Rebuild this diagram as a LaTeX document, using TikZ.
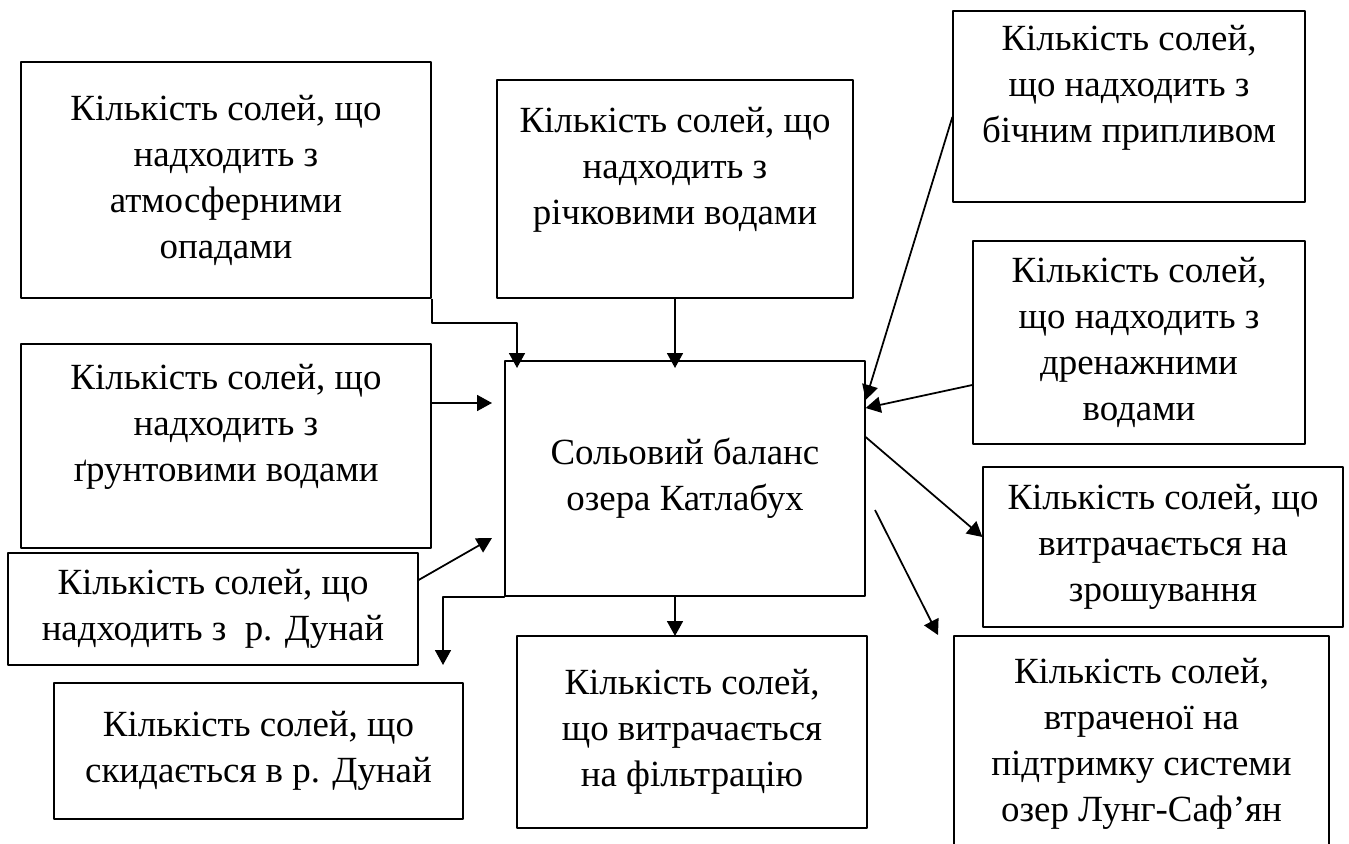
\documentclass[tikz,border=0pt]{standalone}
\usepackage{fontspec}
\setmainfont{Liberation Serif}
\usetikzlibrary{arrows.meta}
\begin{document}
	\begin{tikzpicture}[x=0.02cm, y=-0.02cm, font=\fontsize{21}{26.2}\selectfont, line join=round, >={Triangle[length=0.3cm,width=0.32cm]},
		blok/.style={draw, line width=0.75pt, align=center, inner sep=0pt},
		strilka/.style={->, line width=1pt}]
		\useasboundingbox (0,0) rectangle (1349,844);
		\clip (0,0) rectangle (1349,844);
		\node[blok, minimum width=8.2cm, minimum height=4.72cm] (atm) at (226,180) {Кількість солей, що\\надходить з\\атмосферними\\опадами};
		\node[blok, minimum width=7.12cm, minimum height=4.36cm] (river) at (675,189) {Кількість солей, що\\надходить з\\річковими водами\\ \mbox{}};
		\node[blok, minimum width=7.04cm, minimum height=3.82cm] (bich) at (1129,106.5) {Кількість солей,\\що надходить з\\бічним припливом\\ \mbox{}};
		\node[blok, minimum width=6.64cm, minimum height=4.06cm] (dren) at (1139,342.5) {Кількість солей,\\що надходить з\\дренажними\\водами};
		\node[blok, minimum width=8.2cm, minimum height=4.08cm] (grunt) at (226,446) {Кількість солей, що\\надходить з\\ґрунтовими водами\\ \mbox{}};
		\node[blok, minimum width=7.2cm, minimum height=4.7cm] (balans) at (685,478.5) {Сольовий баланс\\озера Катлабух};
		\node[blok, minimum width=8.2cm, minimum height=2.24cm] (dunaj) at (213,609) {Кількість солей, що\\надходить з~ р. Дунай};
		\node[blok, minimum width=7.2cm, minimum height=3.2cm] (zrosh) at (1163,547) {Кількість солей, що\\витрачається на\\зрошування};
		\node[blok, minimum width=7.5cm, minimum height=4.32cm] (lung) at (1141.5,744) {Кількість солей,\\втраченої на\\підтримку системи\\озер Лунг-Саф’ян};
		\node[blok, minimum width=8.18cm, minimum height=2.72cm] (skyd) at (258.5,751) {Кількість солей, що\\скидається в р. Дунай};
		\node[blok, minimum width=7cm, minimum height=3.84cm] (filtr) at (692,732) {Кількість солей,\\що витрачається\\на фільтрацію};
		\coordinate (atmK) at (517,368);
		\coordinate (rivK) at (675,368);
		\coordinate (gruK) at (492,403);
		\coordinate (dunK) at (492,538);
		\coordinate (skyK) at (443,665);
		\coordinate (filK) at (675,636);
		\coordinate (lunP) at (875,510);
		\coordinate (lunK) at (938,635);
		\draw[strilka] (atm.south east) -- ++(0,24) -| (atmK);
		\draw[strilka] (river.south) -- (rivK);
		\draw[strilka] ([yshift=0.86cm]grunt.east) -- (gruK);
		\draw[strilka] ([yshift=0.58cm]dunaj.east) -- (dunK);
		\draw[strilka] ([yshift=-0.97cm]balans.west) -- (balans.south west) -| (skyK);
		\draw[strilka] ([xshift=-0.2cm]balans.south) -- (filK);
		\draw[strilka] ([yshift=-0.21cm]bich.west) -- ([yshift=1.57cm]balans.east);
		\draw[strilka] ([yshift=-0.85cm]dren.west) -- ([yshift=1.41cm]balans.east);
		\draw[strilka] ([yshift=0.83cm]balans.east) -- ([yshift=0.2cm]zrosh.west);
		\draw[strilka] (lunP) -- (lunK);
	\end{tikzpicture}
\end{document}
